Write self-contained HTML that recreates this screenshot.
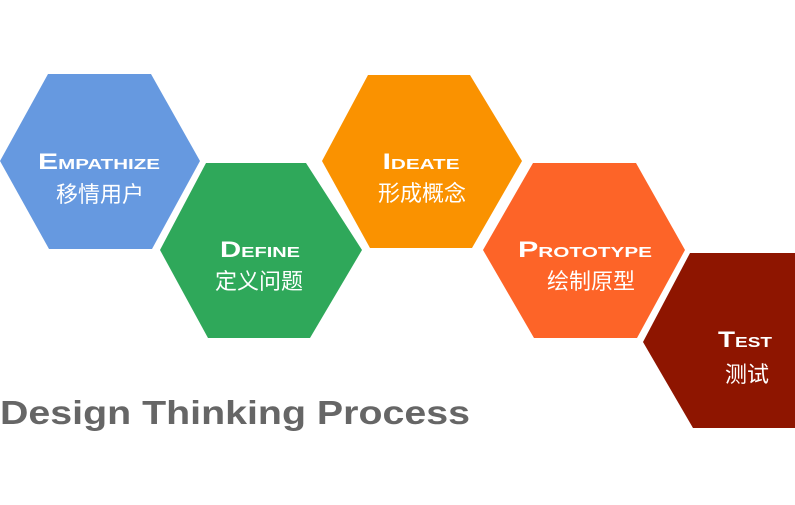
<!DOCTYPE html>
<html><head><meta charset="utf-8"><style>
body{margin:0;width:795px;height:500px;background:#fff;overflow:hidden}
svg text{font-family:"Liberation Sans","Noto Sans CJK SC",sans-serif;fill:#fff;text-anchor:middle}
.en{font-weight:bold;font-size:22px;font-variant:small-caps}
.zh{font-size:22px}
</style></head><body>
<svg width="795" height="500" viewBox="0 0 795 500">
<polygon points="0,161 48,74 151,74 200,161 152,249 49,249" fill="#6699e0"/>
<polygon points="160,250 206,163 306,163 362,250 310,338 208,338" fill="#2fa85a"/>
<polygon points="322,161 368,75 470,75 522,161 472,248 370,248" fill="#fa9200"/>
<polygon points="483,250 533,163 636,163 685,250 637,338 534,338" fill="#fd6428"/>
<polygon points="643,342 690,253 800,253 800,428 693,428" fill="#8e1500"/>
<text class="en" x="99" y="169" textLength="122" lengthAdjust="spacingAndGlyphs">Empathize</text>
<text class="zh" x="100" y="202">移情用户</text>
<text class="en" x="260" y="257" textLength="80" lengthAdjust="spacingAndGlyphs">Define</text>
<text class="zh" x="259" y="289">定义问题</text>
<text class="en" x="421" y="169" textLength="77" lengthAdjust="spacingAndGlyphs">Ideate</text>
<text class="zh" x="422" y="201">形成概念</text>
<text class="en" x="585" y="257" textLength="134" lengthAdjust="spacingAndGlyphs">Prototype</text>
<text class="zh" x="591" y="289">绘制原型</text>
<text class="en" x="745" y="347" textLength="54" lengthAdjust="spacingAndGlyphs">Test</text>
<text class="zh" x="747" y="382">测试</text>
<text x="0" y="424" textLength="470" lengthAdjust="spacingAndGlyphs" style="text-anchor:start;fill:#666;font-weight:bold;font-size:33px">Design Thinking Process</text>
</svg>
</body></html>
